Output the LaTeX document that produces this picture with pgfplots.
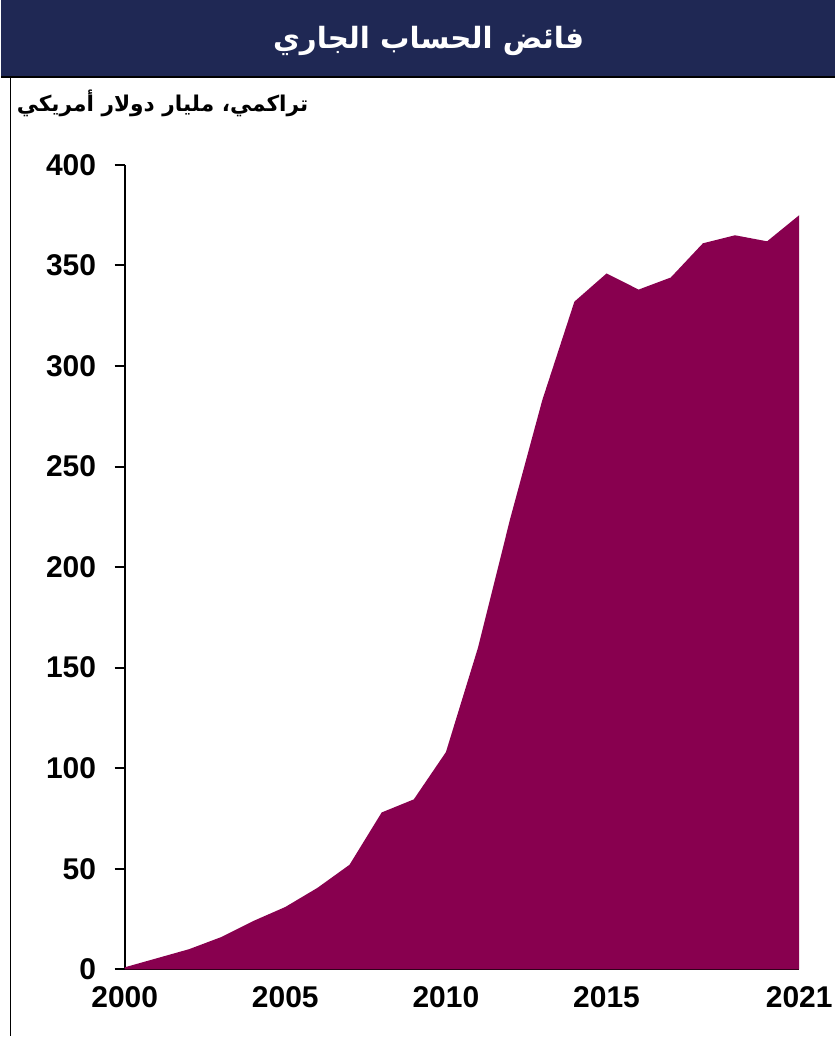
\documentclass[border=0pt]{standalone}
\usepackage{pgfplots}
\pgfplotsset{compat=1.18}
\usepackage{fontspec}
\setmainfont{Liberation Sans}
\newfontfamily\arabicfont[Script=Arabic]{DejaVu Sans}
\TeXXeTstate=1
\definecolor{navy}{RGB}{31,40,84}
\definecolor{maroon}{RGB}{136,0,79}
\pgfplotstableread{
year value
2000 1
2001 5.5
2002 10
2003 16
2004 24
2005 31
2006 40.5
2007 52
2008 78
2009 84.5
2010 108
2011 160
2012 224
2013 283
2014 332
2015 346
2016 338
2017 344
2018 361
2019 365
2020 362
2021 375
}\datatable
\begin{document}
\begin{tikzpicture}
\begin{scope}[x=0.75pt,y=-0.75pt]
\path[fill=white] (0,0) rectangle (835,1037);
\fill[navy] (0,0) rectangle (835,76);
\draw[black,line width=1.2pt] (0,77) -- (835,77);
\draw[black,line width=1.1pt] (9.5,77) -- (9.5,1037);
\node[text=white,font=\arabicfont\bfseries\fontsize{22}{26}\selectfont] at (428,41) {\beginR فائض الحساب الجاري\endR};
\node[anchor=east,inner sep=0pt,font=\arabicfont\bfseries\fontsize{16.3}{20}\selectfont] at (308,103) {\beginR تراكمي، مليار دولار أمريكي\endR};
\coordinate (A) at (124,970);
\end{scope}
\begin{axis}[
  at={(A)}, anchor=south west,
  scale only axis,
  width=506.25pt, height=603.75pt,
  xmin=2000, xmax=2021, ymin=0, ymax=400,
  axis x line*=bottom, axis y line*=left,
  axis line style={line width=1.5pt,-},
  xtick={2000,2005,2010,2015,2021},
  xticklabels={2000,2005,2010,2015,2021},
  ytick={0,50,...,400},
  yticklabels={0,50,100,150,200,250,300,350,400},
  tick align=outside,
  major tick length=7.5pt,
  ytick style={line width=1.5pt,black},
  xtick style={draw=none},
  tick label style={font=\bfseries\fontsize{22.5}{24}\selectfont},
  yticklabel style={xshift=-10.5pt},
  xticklabel style={yshift=-2pt},
]
\addplot[draw=none,fill=maroon] table[x=year,y=value] {\datatable} \closedcycle;
\end{axis}
\end{tikzpicture}
\end{document}
